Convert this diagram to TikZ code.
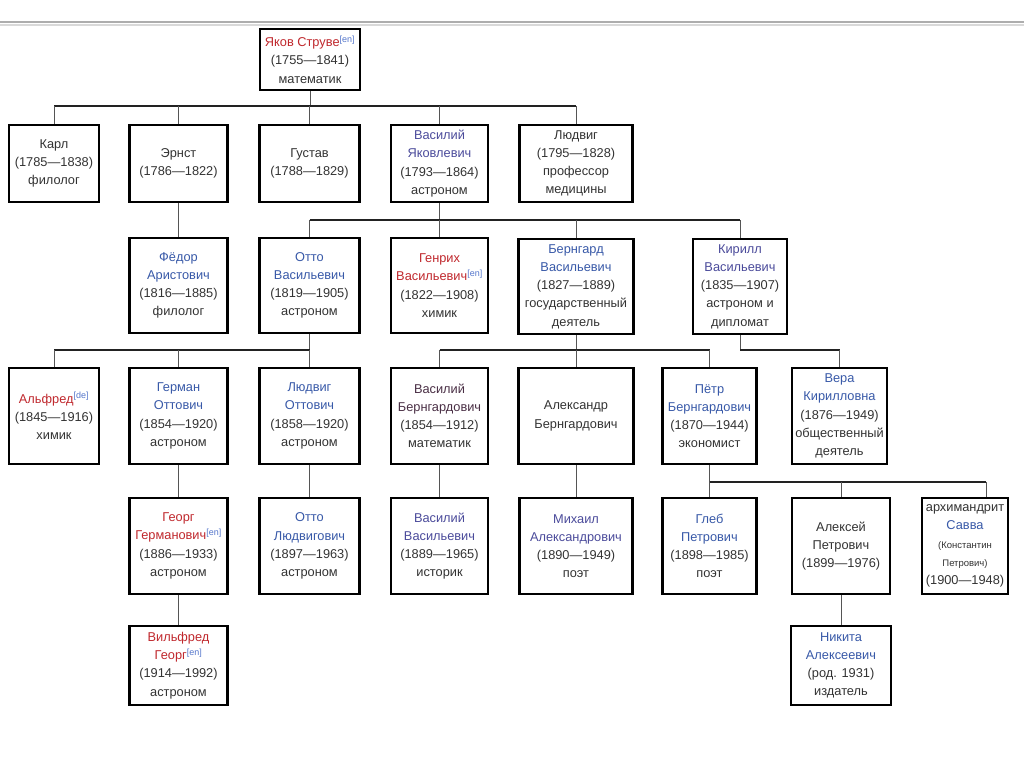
\documentclass[tikz,border=0pt]{standalone}
\usepackage{fontspec}
\setmainfont{Liberation Sans}
\definecolor{txt}{HTML}{333333}
\definecolor{rname}{HTML}{C0282D}
\definecolor{bname}{HTML}{3859A8}
\definecolor{pname}{HTML}{4B4B9B}
\definecolor{dname}{HTML}{4A2F45}
\definecolor{supc}{HTML}{5577CC}
\definecolor{hl}{HTML}{222222}
\definecolor{vl}{HTML}{555555}
\newcommand\lnk[1]{\textsuperscript{\color{supc}[#1]}}
\newcommand\R[1]{\textcolor{rname}{#1}}
\newcommand\B[1]{\textcolor{bname}{#1}}
\newcommand\Pu[1]{\textcolor{pname}{#1}}
\newcommand\Dk[1]{\textcolor{dname}{#1}}
\tikzset{
  person/.style={draw=black, line width=2.2pt, fill=white, align=center, inner sep=0pt,
    text=txt, font=\fontsize{12.8}{18.2}\selectfont},
  hline/.style={draw=hl, line width=1.4pt},
  vline/.style={draw=vl, line width=1pt},
}
\begin{document}
\begin{tikzpicture}[x=1pt,y=-1pt]
\useasboundingbox (0,0) rectangle (1024,767);
\fill[white] (0,0) rectangle (1024,767);
\draw[line width=2pt, color=black!32] (0,22) -- (1024,22);
\draw[line width=2pt, color=black!15] (0,25.5) -- (1024,25.5);

% bus levels
\coordinate (y0) at (0,106);
\coordinate (y1) at (0,220);
\coordinate (y2) at (0,350);
\coordinate (y4) at (0,482);

% root
\node[person, minimum width=100, minimum height=61] (root) at (310,59.5)
  {\R{Яков Струве}\lnk{en}\\(1755—1841)\\математик};

% row 1
\node[person, minimum width=90, minimum height=77] (karl) at (54,163.5) {Карл\\(1785—1838)\\филолог};
\node[person, minimum width=98, minimum height=77] (ernst) at (178.5,163.5) {Эрнст\\(1786—1822)};
\node[person, minimum width=100, minimum height=77] (gustav) at (309.5,163.5) {Густав\\(1788—1829)};
\node[person, minimum width=97, minimum height=77] (vasya) at (439.5,163.5) {\Pu{Василий}\\\Pu{Яковлевич}\\(1793—1864)\\астроном};
\node[person, minimum width=113, minimum height=77] (ludvig) at (576,163.5) {Людвиг\\(1795—1828)\\профессор\\медицины};

% row 2
\node[person, minimum width=98, minimum height=95] (fedor) at (178.5,285.5) {\B{Фёдор}\\\B{Аристович}\\(1816—1885)\\филолог};
\node[person, minimum width=100, minimum height=95] (otto) at (309.5,285.5) {\B{Отто}\\\B{Васильевич}\\(1819—1905)\\астроном};
\node[person, minimum width=97, minimum height=95] (genrikh) at (439.5,285.5) {\R{Генрих}\\\R{Васильевич}\lnk{en}\\(1822—1908)\\химик};
\node[person, minimum width=115, minimum height=95] (berngard) at (576,286.5) {\B{Бернгард}\\\B{Васильевич}\\(1827—1889)\\государственный\\деятель};
\node[person, minimum width=94, minimum height=95] (kirill) at (740,286.5) {\Pu{Кирилл}\\\Pu{Васильевич}\\(1835—1907)\\астроном и\\дипломат};

% row 3
\node[person, minimum width=90, minimum height=96] (alfred) at (54,416) {\R{Альфред}\lnk{de}\\(1845—1916)\\химик};
\node[person, minimum width=98, minimum height=96] (german) at (178.5,416) {\B{Герман}\\\B{Оттович}\\(1854—1920)\\астроном};
\node[person, minimum width=100, minimum height=96] (ludvigO) at (309.5,416) {\B{Людвиг}\\\B{Оттович}\\(1858—1920)\\астроном};
\node[person, minimum width=97, minimum height=96] (vasB) at (439.5,416) {\Dk{Василий}\\\Dk{Бернгардович}\\(1854—1912)\\математик};
\node[person, minimum width=115, minimum height=96] (aleks) at (576,416) {Александр\\Бернгардович};
\node[person, minimum width=94, minimum height=96] (petr) at (709.5,416) {\B{Пётр}\\\B{Бернгардович}\\(1870—1944)\\экономист};
\node[person, minimum width=95, minimum height=96] (vera) at (839.5,416) {\B{Вера}\\\B{Кирилловна}\\(1876—1949)\\общественный\\деятель};

% row 4
\node[person, minimum width=98, minimum height=96] (georg) at (178.5,546) {\R{Георг}\\\R{Германович}\lnk{en}\\(1886—1933)\\астроном};
\node[person, minimum width=100, minimum height=96] (ottoL) at (309.5,546) {\B{Отто}\\\B{Людвигович}\\(1897—1963)\\астроном};
\node[person, minimum width=97, minimum height=96] (vasV) at (439.5,546) {\Pu{Василий}\\\Pu{Васильевич}\\(1889—1965)\\историк};
\node[person, minimum width=113, minimum height=96] (mikhail) at (576,546) {\Pu{Михаил}\\\Pu{Александрович}\\(1890—1949)\\поэт};
\node[person, minimum width=94, minimum height=96] (gleb) at (709.5,546) {\B{Глеб}\\\B{Петрович}\\(1898—1985)\\поэт};
\node[person, minimum width=98, minimum height=96] (aleksei) at (841,546) {Алексей\\Петрович\\(1899—1976)};
\node[person, minimum width=86, minimum height=96] (savva) at (965,546) {архимандрит\\\B{Савва}\\{\fontsize{9.5}{18.2}\selectfont (Константин}\\{\fontsize{9.5}{18.2}\selectfont Петрович)}\\(1900—1948)};

% row 5
\node[person, minimum width=98, minimum height=79] (vilfred) at (178.5,665.5) {\R{Вильфред}\\\R{Георг}\lnk{en}\\(1914—1992)\\астроном};
\node[person, minimum width=100, minimum height=79] (nikita) at (841,665.5) {\B{Никита}\\\B{Алексеевич}\\(род. 1931)\\издатель};

% connectors: Яков -> children
\draw[vline] (root.south) -- (root.south |- y0);
\draw[hline] (karl.north |- y0) -- (ludvig.north |- y0);
\foreach \n in {karl,ernst,gustav,vasya,ludvig} \draw[vline] (\n.north) -- (\n.north |- y0);

% Эрнст -> Фёдор
\draw[vline] (ernst.south) -- (fedor.north);

% Василий Яковлевич -> children
\draw[vline] (vasya.south) -- (vasya.south |- y1);
\draw[hline] (otto.north |- y1) -- (kirill.north |- y1);
\foreach \n in {otto,genrikh,berngard,kirill} \draw[vline] (\n.north) -- (\n.north |- y1);

% Отто -> children
\draw[vline] (otto.south) -- (otto.south |- y2);
\draw[hline] (alfred.north |- y2) -- (ludvigO.north |- y2);
\foreach \n in {alfred,german,ludvigO} \draw[vline] (\n.north) -- (\n.north |- y2);

% Бернгард -> children
\draw[vline] (berngard.south) -- (berngard.south |- y2);
\draw[hline] (vasB.north |- y2) -- (petr.north |- y2);
\foreach \n in {vasB,aleks,petr} \draw[vline] (\n.north) -- (\n.north |- y2);

% Кирилл -> Вера
\draw[vline] (kirill.south) -- (kirill.south |- y2);
\draw[hline] (kirill.south |- y2) -- (vera.north |- y2);
\draw[vline] (vera.north |- y2) -- (vera.north);

% single links
\draw[vline] (german.south) -- (georg.north);
\draw[vline] (ludvigO.south) -- (ottoL.north);
\draw[vline] (vasB.south) -- (vasV.north);
\draw[vline] (aleks.south) -- (mikhail.north);
\draw[vline] (georg.south) -- (vilfred.north);
\draw[vline] (aleksei.south) -- (nikita.north);

% Пётр -> children
\coordinate (sv) at ([xshift=21pt]savva.north);
\draw[vline] (petr.south) -- (gleb.north);
\draw[hline] (petr.south |- y4) -- (sv |- y4);
\draw[vline] (aleksei.north) -- (aleksei.north |- y4);
\draw[vline] (sv) -- (sv |- y4);
\end{tikzpicture}
\end{document}
